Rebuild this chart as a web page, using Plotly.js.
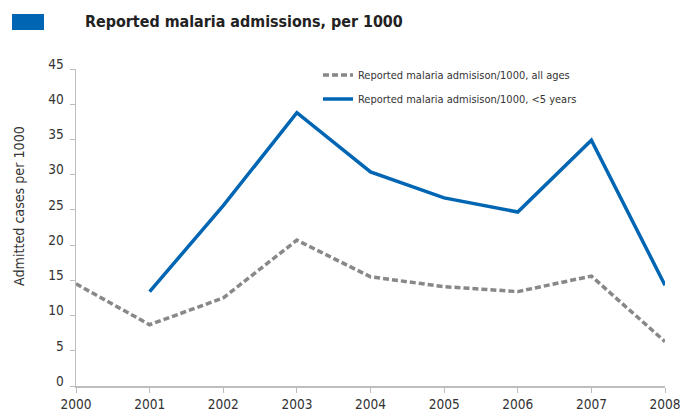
<!DOCTYPE html>
<html>
<head>
<meta charset="utf-8">
<script src="https://cdn.plot.ly/plotly-3.0.1.min.js"></script>
<style>html,body{margin:0;padding:0;background:#fff;}#chart{width:682px;height:412px;}</style>
</head>
<body>
<div id="chart"></div>
<script>
const years = [2000, 2001, 2002, 2003, 2004, 2005, 2006, 2007, 2008];
const allAges = [14.5, 8.7, 12.5, 20.7, 15.5, 14.1, 13.4, 15.6, 6.3];
const underFive = [null, 13.4, 25.6, 38.8, 30.4, 26.7, 24.7, 34.9, 14.3];
const yTicks = [0, 5, 10, 15, 20, 25, 30, 35, 40, 45];
const seriesNames = ["Reported malaria admisison/1000, all ages", "Reported malaria admisison/1000, <5 years"];
const titleText = "Reported malaria admissions, per 1000";
const yTitle = "Admitted cases per 1000";

// pick a narrow installed face and size text near the reference widths
const cv = document.createElement("canvas").getContext("2d");
function has(f) {
  const s = "abcdefghijklmnopqrstuvwxyz0123456789";
  cv.font = "72px monospace"; const a = cv.measureText(s).width;
  cv.font = "72px '" + f + "', monospace"; return cv.measureText(s).width !== a;
}
const cands = ["Liberation Sans Narrow", "DejaVu Sans Condensed", "Roboto", "Liberation Sans"];
const face = cands.find(has) || "sans-serif";
const FONT = "'" + face + "', sans-serif";
function fit(text, target, weight) {
  cv.font = (weight || "normal") + " 100px " + FONT;
  return 100 * target / cv.measureText(text).width;
}
const szTitle = fit(titleText, 318, "bold");
const szLegend = fit(seriesNames[0], 212);
const szYTitle = fit(yTitle, 160);
const szTick = fit("2001", 31);

const L = 76, T = 69, PW = 589, PH = 317;
const px2x = p => (p - L) / PW;
const py2y = p => (T + PH - p) / PH;

const traces = [
  {x: years, y: allAges, name: seriesNames[0], mode: "lines", legend: "legend",
   line: {color: "#88888a", width: 3.5, dash: "6px,3px"}, connectgaps: false},
  {x: years, y: underFive, name: seriesNames[1], mode: "lines", legend: "legend2",
   line: {color: "#0066b3", width: 3.5}, connectgaps: false}
];
const legBase = {x: px2x(318), xanchor: "left", yanchor: "middle", bgcolor: "rgba(0,0,0,0)",
                 font: {family: FONT, size: szLegend, color: "#333"}};
const layout = {
  width: 682, height: 412,
  margin: {l: L, r: 682 - L - PW, t: T, b: 412 - T - PH},
  paper_bgcolor: "#fff", plot_bgcolor: "#fff",
  font: {family: FONT, color: "#333", size: szTick},
  showlegend: true,
  title: {text: "<b>" + titleText + "</b>", xref: "container", x: 85/682, xanchor: "left",
          yref: "container", y: 1 - 21/412, yanchor: "middle",
          font: {family: FONT, size: szTitle, color: "#222"}},
  legend: Object.assign({}, legBase, {y: py2y(75)}),
  legend2: Object.assign({}, legBase, {y: py2y(99)}),
  xaxis: {range: [2000, 2008], tickvals: years, ticktext: years.map(String),
          showgrid: false, zeroline: false, showline: true, linecolor: "#bdbdbd", linewidth: 1.5,
          ticks: "outside", ticklen: 5, tickcolor: "#bdbdbd", ticklabeloverflow: "allow",
          tickfont: {size: szTick, family: FONT, color: "#333"}},
  yaxis: {range: [0, 45], tickvals: yTicks, showgrid: false, zeroline: false, showline: true,
          linecolor: "#bdbdbd", linewidth: 1.5, ticks: "outside", ticklen: 5, tickcolor: "#bdbdbd",
          ticklabeloverflow: "allow", ticklabelshift: -5, ticklabelstandoff: 3,
          tickfont: {size: szTick, family: FONT, color: "#333"}},
  annotations: [{text: yTitle, textangle: -90, showarrow: false, xref: "paper", yref: "paper",
                 x: px2x(19), y: py2y(206), xanchor: "center", yanchor: "middle",
                 font: {size: szYTitle, family: FONT, color: "#333"}}],
  shapes: [{type: "rect", xref: "paper", yref: "paper",
            x0: px2x(12), x1: px2x(44), y0: py2y(30), y1: py2y(14),
            fillcolor: "#0066b3", line: {width: 0}}]
};
Plotly.newPlot("chart", traces, layout, {displayModeBar: false, staticPlot: true});
</script>
</body>
</html>
